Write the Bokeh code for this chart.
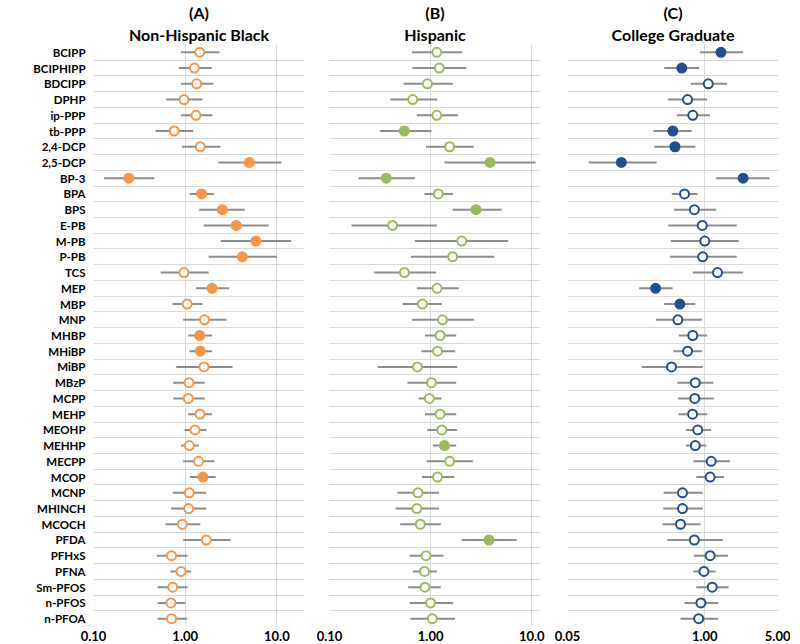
from bokeh.plotting import figure
from bokeh.models import Range1d, FixedTicker, ColumnDataSource, Title
from bokeh.layouts import row
from bokeh.embed import file_html
from bokeh.resources import INLINE

labels = ["BCIPP", "BCIPHIPP", "BDCIPP", "DPHP", "ip-PPP", "tb-PPP", "2,4-DCP", "2,5-DCP",
          "BP-3", "BPA", "BPS", "E-PB", "M-PB", "P-PB", "TCS", "MEP", "MBP", "MNP", "MHBP",
          "MHiBP", "MiBP", "MBzP", "MCPP", "MEHP", "MEOHP", "MEHHP", "MECPP", "MCOP", "MCNP",
          "MHINCH", "MCOCH", "PFDA", "PFHxS", "PFNA", "Sm-PFOS", "n-PFOS", "n-PFOA"]

# (A) Non-Hispanic Black
a_est = [1.44, 1.26, 1.33, 0.97, 1.31, 0.76, 1.46, 5.0, 0.243, 1.51, 2.53, 3.6, 5.9, 4.19, 0.97,
         1.96, 1.05, 1.62, 1.44, 1.46, 1.60, 1.10, 1.08, 1.45, 1.28, 1.11, 1.40, 1.56, 1.11, 1.09,
         0.93, 1.70, 0.71, 0.90, 0.73, 0.70, 0.71]
a_lo = [0.90, 0.85, 0.90, 0.62, 0.90, 0.475, 0.92, 2.3, 0.13, 1.12, 1.42, 1.59, 2.44, 1.80, 0.54,
        1.31, 0.73, 0.95, 1.08, 1.11, 0.80, 0.74, 0.74, 1.08, 0.98, 0.90, 0.95, 1.12, 0.73, 0.70,
        0.61, 0.95, 0.49, 0.69, 0.50, 0.50, 0.50]
a_hi = [2.36, 1.95, 2.03, 1.54, 1.98, 1.22, 2.42, 11.2, 0.46, 2.06, 4.45, 8.1, 14.3, 10.0, 1.80,
        3.01, 1.54, 2.82, 1.96, 1.96, 3.28, 1.63, 1.63, 1.96, 1.71, 1.41, 2.08, 2.15, 1.70, 1.70,
        1.46, 3.12, 1.06, 1.16, 1.06, 1.00, 1.05]
a_sig = ["2,5-DCP", "BP-3", "BPA", "BPS", "E-PB", "M-PB", "P-PB", "MEP", "MHBP", "MHiBP", "MCOP"]

# (B) Hispanic
b_est = [1.15, 1.22, 0.93, 0.665, 1.15, 0.55, 1.54, 3.86, 0.364, 1.19, 2.81, 0.42, 2.03, 1.65, 0.55,
         1.16, 0.83, 1.31, 1.24, 1.17, 0.74, 1.02, 0.97, 1.24, 1.29, 1.37, 1.54, 1.17, 0.75, 0.73,
         0.79, 3.78, 0.90, 0.87, 0.88, 1.0, 1.04]
b_lo = [0.655, 0.66, 0.54, 0.40, 0.73, 0.315, 0.90, 1.37, 0.194, 0.87, 1.65, 0.165, 0.70, 0.64, 0.277,
        0.73, 0.53, 0.655, 0.88, 0.81, 0.30, 0.59, 0.76, 0.88, 0.93, 1.05, 0.91, 0.82, 0.47, 0.45,
        0.50, 2.03, 0.62, 0.665, 0.60, 0.62, 0.63]
b_hi = [2.05, 2.24, 1.66, 1.16, 1.87, 1.02, 2.67, 10.9, 0.70, 1.66, 5.03, 1.15, 5.85, 4.26, 1.13,
        1.90, 1.29, 2.69, 1.79, 1.75, 1.83, 1.79, 1.28, 1.79, 1.82, 1.79, 2.61, 1.71, 1.21, 1.21,
        1.26, 7.07, 1.34, 1.15, 1.26, 1.67, 1.74]
b_sig = ["tb-PPP", "2,5-DCP", "BP-3", "BPS", "MEHHP", "PFDA"]

# (C) College Graduate
c_est = [1.425, 0.606, 1.08, 0.687, 0.77, 0.498, 0.522, 0.162, 2.31, 0.643, 0.797, 0.947, 1.0, 0.956,
         1.32, 0.342, 0.581, 0.556, 0.77, 0.687, 0.484, 0.814, 0.805, 0.766, 0.858, 0.814, 1.15,
         1.124, 0.615, 0.615, 0.589, 0.797, 1.124, 0.982, 1.177, 0.92, 0.876]
c_lo = [0.903, 0.413, 0.735, 0.447, 0.544, 0.325, 0.332, 0.0794, 1.274, 0.487, 0.513, 0.451, 0.478,
        0.469, 0.77, 0.239, 0.413, 0.344, 0.566, 0.504, 0.253, 0.549, 0.558, 0.566, 0.664, 0.664,
        0.779, 0.832, 0.407, 0.404, 0.398, 0.443, 0.788, 0.779, 0.832, 0.646, 0.589]
c_hi = [2.31, 0.885, 1.63, 1.053, 1.124, 0.752, 0.814, 0.35, 4.10, 0.854, 1.283, 2.01, 2.10, 2.01,
        2.31, 0.496, 0.814, 0.938, 1.053, 0.938, 0.956, 1.204, 1.221, 1.053, 1.142, 1.035, 1.735,
        1.522, 0.956, 0.956, 0.912, 1.478, 1.664, 1.266, 1.68, 1.345, 1.336]
c_sig = ["BCIPP", "BCIPHIPP", "tb-PPP", "2,4-DCP", "2,5-DCP", "BP-3", "MEP", "MBP"]

a_ticks = [0.1, 1.0, 10.0]
a_tick_labels = ["0.10", "1.00", "10.0"]
b_ticks = [0.1, 1.0, 10.0]
b_tick_labels = ["0.10", "1.00", "10.0"]
c_ticks = [0.05, 1.0, 5.0]
c_tick_labels = ["0.05", "1.00", "5.00"]

FONT = "Lato"
H = 643
N = len(labels)
ypos = [N - 1 - i for i in range(N)]


def panel(letter, name, est, lo, hi, sig, color, xr, ticks, tick_labels, grid_ticks,
          width, bl, br, show_y):
    p = figure(width=width, height=H, x_axis_type="log",
               x_range=Range1d(*xr), y_range=Range1d(-0.5, N - 0.5),
               output_backend="svg", toolbar_location=None,
               min_border_left=bl, min_border_right=br, min_border_top=36,
               min_border_bottom=0)
    p.title.text = letter
    p.title.align = "center"
    p.title.text_font = FONT
    p.title.text_font_size = "16px"
    p.title.text_font_style = "bold"
    p.title.text_color = "#000000"
    p.title.standoff = 0
    p.add_layout(Title(text=name, align="center", text_font=FONT, text_font_size="16px",
                       text_font_style="bold", text_color="#000000", standoff=2), "above")
    p.outline_line_color = None
    p.background_fill_color = "white"
    p.border_fill_color = "white"

    fills = [color if l in sig else "white" for l in labels]
    src = ColumnDataSource(dict(y=ypos, est=est, lo=lo, hi=hi, fill=fills))
    p.segment(x0="lo", x1="hi", y0="y", y1="y", source=src, line_color="#8C8C8C", line_width=2)
    p.scatter(x="est", y="y", source=src, size=9, fill_color="fill", line_color=color,
              line_width=2)

    p.xgrid.ticker = FixedTicker(ticks=grid_ticks)
    p.xgrid.grid_line_color = "#D9D9D9"
    p.ygrid.ticker = FixedTicker(ticks=[k - 0.5 for k in range(N + 1)])
    p.ygrid.grid_line_color = "#D9D9D9"

    p.xaxis.ticker = FixedTicker(ticks=ticks)
    p.xaxis.major_label_overrides = {t: s for t, s in zip(ticks, tick_labels)}
    p.xaxis.axis_line_color = None
    p.xaxis.major_tick_line_color = None
    p.xaxis.minor_tick_line_color = None
    p.xaxis.major_tick_in = 0
    p.xaxis.major_tick_out = 0
    p.xaxis.minor_tick_in = 0
    p.xaxis.minor_tick_out = 0
    p.xaxis.axis_label_standoff = 0
    p.xaxis.major_label_standoff = 4
    p.xaxis.major_label_text_font = FONT
    p.xaxis.major_label_text_font_size = "13px"
    p.xaxis.major_label_text_font_style = "bold"
    p.xaxis.major_label_text_color = "#000000"

    p.yaxis.ticker = FixedTicker(ticks=ypos)
    p.yaxis.major_label_overrides = {y: l for y, l in zip(ypos, labels)}
    p.yaxis.axis_line_color = None
    p.yaxis.major_tick_line_color = None
    p.yaxis.minor_tick_line_color = None
    p.yaxis.major_tick_in = 0
    p.yaxis.major_tick_out = 0
    p.yaxis.minor_tick_in = 0
    p.yaxis.minor_tick_out = 0
    p.yaxis.axis_label_standoff = 0
    p.yaxis.major_label_standoff = 8
    p.yaxis.major_label_text_font = FONT
    p.yaxis.major_label_text_font_size = "11.5px"
    p.yaxis.major_label_text_font_style = "bold"
    p.yaxis.major_label_text_color = "#000000"
    if not show_y:
        p.yaxis.visible = False
    return p


pa = panel("(A)", "Non-Hispanic Black", a_est, a_lo, a_hi, a_sig, "#F79646", (0.1, 20),
           a_ticks, a_tick_labels, [0.1, 1.0, 10.0], 310, 93, 6, True)
pb = panel("(B)", "Hispanic", b_est, b_lo, b_hi, b_sig, "#9BBB59", (0.1, 12.2),
           b_ticks, b_tick_labels, [0.1, 1.0, 10.0], 242, 19, 12, False)
pc = panel("(C)", "College Graduate", c_est, c_lo, c_hi, c_sig, "#234F8E", (0.05, 5.0),
           c_ticks, c_tick_labels, [1.0], 238, 15, 12, False)

layout = row(pa, pb, pc)
open("out.html", "w").write(file_html(layout, INLINE))
